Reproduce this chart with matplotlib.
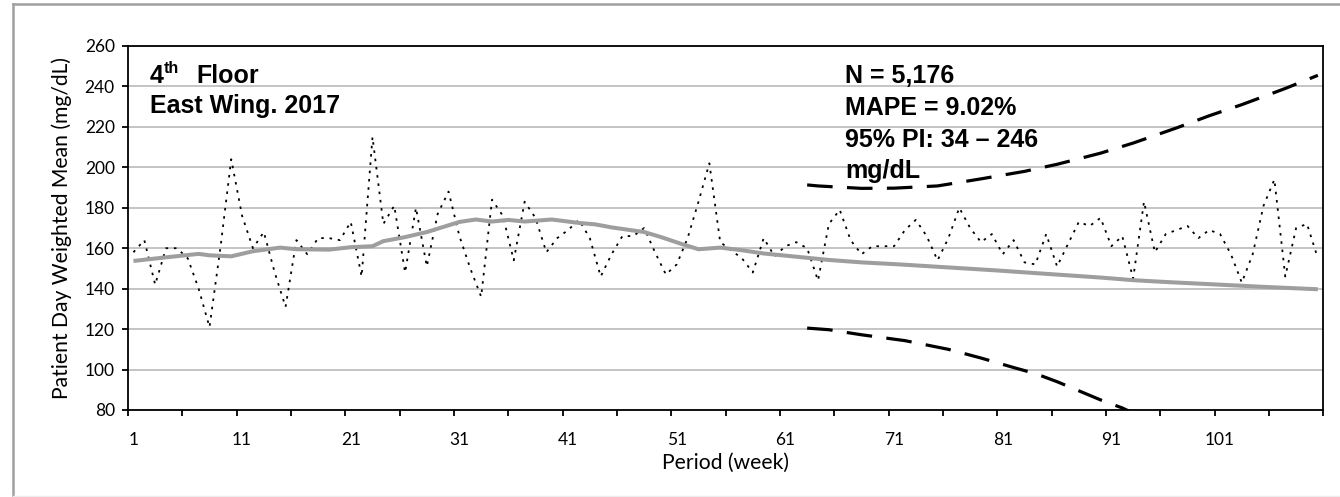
import matplotlib
matplotlib.use("Agg")
import matplotlib.pyplot as plt
from matplotlib.lines import Line2D

# ---------------- data ----------------
periods = list(range(1, 111))
weekly_mean = [
    158, 164, 142, 160, 160, 155, 140, 121, 160, 204,
    176, 160, 168, 148, 131, 164, 157, 165, 165, 164,
    173, 146, 215, 172, 181, 148, 180, 151, 177, 188,
    166, 150, 136, 184, 176, 154, 183, 175, 158, 165,
    169, 174, 165, 146, 157, 166, 166, 170, 158, 147,
    152, 165, 183, 202, 163, 159, 155, 148, 165, 156,
    161, 163, 160, 144, 172, 179, 164, 157, 161, 161,
    161, 169, 174, 166, 154, 165, 180, 170, 163, 167,
    157, 164, 153, 152, 167, 151, 162, 173, 171, 175,
    161, 166, 145, 183, 158, 167, 169, 171, 165, 169,
    167, 157, 143, 157, 181, 194, 146, 170, 172, 155,
]

trend_x = [1, 4, 7, 8, 10, 12, 14.5, 16, 19, 21, 23, 24, 26, 28, 29.5, 31,
           32.5, 34, 35.5, 37, 39.5, 42, 43.5, 45, 48, 49.5, 51.5, 53, 55,
           57, 59, 62, 65, 68, 71.5, 74.5, 77.5, 80.5, 84, 87, 90, 93, 96,
           99, 102, 105, 110]
trend_y = [153.7, 155.5, 157.2, 156.5, 156.0, 158.5, 160.3, 159.5, 159.3,
           160.5, 161.0, 163.5, 165.5, 168.0, 170.5, 173.0, 174.2, 173.2,
           174.0, 173.2, 174.2, 172.5, 171.8, 170.3, 168.0, 165.6, 162.0,
           159.5, 160.3, 159.0, 157.4, 155.8, 154.2, 153.0, 152.0, 151.0,
           150.0, 149.0, 147.7, 146.6, 145.5, 144.2, 143.3, 142.5, 141.7,
           140.9, 139.7]

upper_x = [63, 64, 68, 71, 75, 79, 83, 86, 90, 93, 97, 100, 103, 107, 110]
upper_y = [191.3, 190.8, 189.6, 189.7, 190.8, 194.3, 198.0, 201.5, 207.0,
           212.0, 219.5, 225.5, 231.0, 239.0, 245.5]

lower_x = [63, 65, 68, 72, 76, 79, 82, 84, 86, 90, 92, 94]
lower_y = [120.5, 119.7, 117.2, 114.3, 110.0, 105.7, 101.0, 98.0, 94.0,
           85.0, 81.0, 76.0]

x_tick_labels = [1, 11, 21, 31, 41, 51, 61, 71, 81, 91, 101]
y_ticks = [80, 100, 120, 140, 160, 180, 200, 220, 240, 260]

# ---------------- figure ----------------
W, H = 1340, 497
fig = plt.figure(figsize=(W / 100, H / 100), dpi=100)
fig.patch.set_facecolor("white")

L, R, T, B = 128, 1323.3, 46, 410
ax = fig.add_axes([L / W, 1 - B / H, (R - L) / W, (B - T) / H])

tick_font = "Lato"

ax.set_xlim(0.5, 110.5)
ax.set_ylim(80, 260)

# grid
ax.set_yticks(y_ticks)
ax.yaxis.grid(True, color="#C4C4C4", linewidth=1.4)
ax.set_axisbelow(True)

ax.plot(periods, weekly_mean, color="black", linewidth=1.3,
        linestyle=(0, (1.4, 3.2)), zorder=3)
ax.plot(trend_x, trend_y, color="#9E9E9E", linewidth=2.9, zorder=4,
        solid_capstyle="butt")
ax.plot(upper_x, upper_y, color="black", linewidth=2.3,
        linestyle=(0, (8, 4.5)), zorder=5)
ax.plot(lower_x, lower_y, color="black", linewidth=2.3,
        linestyle=(0, (8, 4.5)), zorder=5)

for s in ax.spines.values():
    s.set_color("black")
    s.set_linewidth(1.3)

# x ticks: marks between categories, labels at categories
ax.set_xticks([0.5 + 5 * k for k in range(23)])
ax.set_xticklabels([])
ax.tick_params(axis="x", which="major", direction="out", length=4.5,
               width=1.3, color="black")
ax.set_xticks(x_tick_labels, minor=True)
ax.set_xticklabels([str(v) for v in x_tick_labels], minor=True,
                   fontfamily=tick_font, fontsize=12.5)
ax.tick_params(axis="x", which="minor", length=0, pad=16)

ax.set_yticklabels([str(v) for v in y_ticks], fontfamily=tick_font,
                   fontsize=12.5)
ax.tick_params(axis="y", direction="out", length=4.5, width=1.3,
               color="black", pad=5)

ax.set_xlabel("Period (week)", fontfamily=tick_font, fontsize=15.2,
              labelpad=3)
ax.set_ylabel("Patient Day Weighted Mean (mg/dL)", fontfamily=tick_font,
              fontsize=15.2, labelpad=9)

# ---------------- annotations ----------------
bold = dict(fontfamily="Liberation Sans", fontweight="bold", fontsize=18,
            color="black", va="baseline", ha="left")


def ftext(x, y, s, **kw):
    fig.text(x / W, 1 - y / H, s, **kw)


ftext(150, 83, "4", **bold)
ftext(164, 73, "th", **{**bold, "fontsize": 11.5})
ftext(196.5, 83, "Floor", **bold)
ftext(150, 113.5, "East Wing. 2017", **bold)

ftext(845, 83.5, "N = 5,176", **bold)
ftext(845, 115, "MAPE = 9.02%", **bold)
ftext(845, 146.7, "95% PI: 34 \u2013 246", **bold)
ftext(845, 178.3, "mg/dL", **bold)

# chart-area border (top and left grey lines, faint bottom)
fig.add_artist(Line2D([13 / W, 1], [1 - 4 / H, 1 - 4 / H],
                      transform=fig.transFigure, color="#A0A0A0",
                      linewidth=1.8))
fig.add_artist(Line2D([13 / W, 13 / W], [0, 1 - 4 / H],
                      transform=fig.transFigure, color="#A0A0A0",
                      linewidth=1.8))
fig.add_artist(Line2D([13 / W, 1], [1 - 496 / H, 1 - 496 / H],
                      transform=fig.transFigure, color="#EDEDED",
                      linewidth=1.0))

fig.savefig("out.png", dpi=100, facecolor="white")
